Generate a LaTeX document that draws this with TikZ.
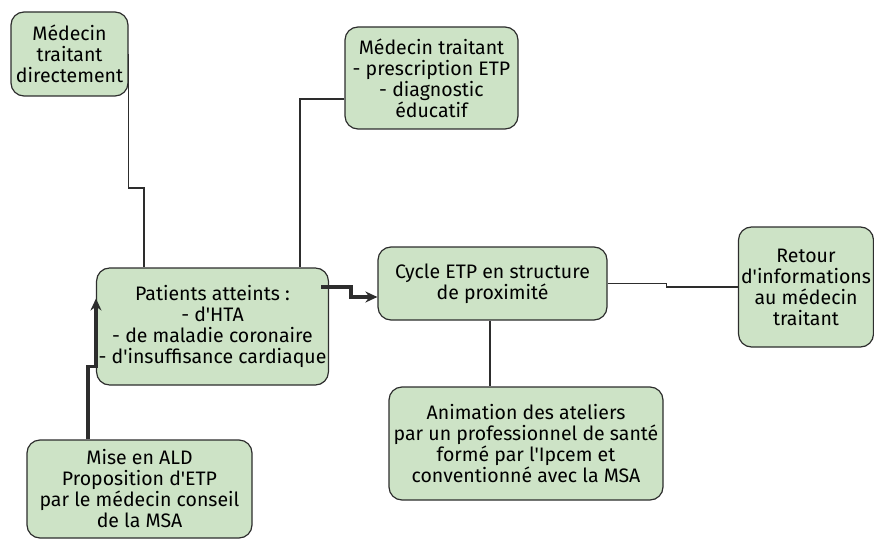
\documentclass[tikz,border=0pt]{standalone}
\usepackage{fontspec}
\setmainfont{Fira Sans}[Ligatures=TeXOff]
\usepackage{tikz}
\usetikzlibrary{positioning,calc,arrows.meta}

\definecolor{boxgreen}{RGB}{205,227,198}
\definecolor{boxline}{RGB}{45,45,45}

\begin{document}
\begin{tikzpicture}[x=1pt,y=-1pt,
        box/.style={rectangle,rounded corners=13pt,draw=boxline,fill=boxgreen,line width=1.2pt,align=center,inner sep=2pt,font=\fontsize{19.5}{21}\selectfont},
        link/.style={draw=boxline,line width=1.3pt},
        flow/.style={draw=boxline,line width=3.6pt,-{Stealth[length=12pt,width=11pt]}}]
        \useasboundingbox (0,0) rectangle (874,540);

        \node[box,minimum width=117pt,minimum height=84pt] (md) at (69.5,54) {Médecin\\traitant\\directement};
        \node[box,minimum width=173pt,minimum height=102pt] (mt) at (431.5,78) {Médecin traitant\\- prescription ETP\\- diagnostic\\éducatif};
        \node[box,minimum width=231pt,minimum height=117pt] (pa) at (212.5,326.5) {Patients atteints :\\- d'HTA\\- de maladie coronaire\\- d'insuffisance cardiaque};
        \node[box,minimum width=229pt,minimum height=73pt] (cy) at (492.5,283.5) {Cycle ETP en structure\\de proximité};
        \node[box,minimum width=135pt,minimum height=120pt] (re) at (806,287) {Retour\\d'informations\\au médecin\\traitant};
        \node[box,minimum width=274pt,minimum height=113pt] (an) at (526,443.5) {Animation des ateliers\\par un professionnel de santé\\formé par l'Ipcem et\\conventionné avec la MSA};
        \node[box,minimum width=225pt,minimum height=98pt] (ald) at (139.5,489) {Mise en ALD\\Proposition d'ETP\\par le médecin conseil\\de la MSA};

        \coordinate (k1) at (144,188);
        \coordinate (k2) at (300,0);

        \draw[link] (md.east) |- (k1) -- (k1 |- pa.north);
        \draw[link] ([yshift=-21pt]mt.west) -| (k2 |- pa.north);
        \draw[link] (cy.east) -- ++(59,0) |- (re.west);
        \draw[link] ([xshift=-2.5pt]cy.south) -- ([xshift=-2.5pt]cy.south |- an.north);
        \draw[flow] ([xshift=-8pt,yshift=39.5pt]pa.east) -- ++(30,0) |- ([yshift=-13.5pt]cy.west);
        \draw[flow] ([xshift=-51.5pt]ald.north) -- ++(0,-73) -| ([yshift=28pt]pa.west);
    \end{tikzpicture}
\end{document}
